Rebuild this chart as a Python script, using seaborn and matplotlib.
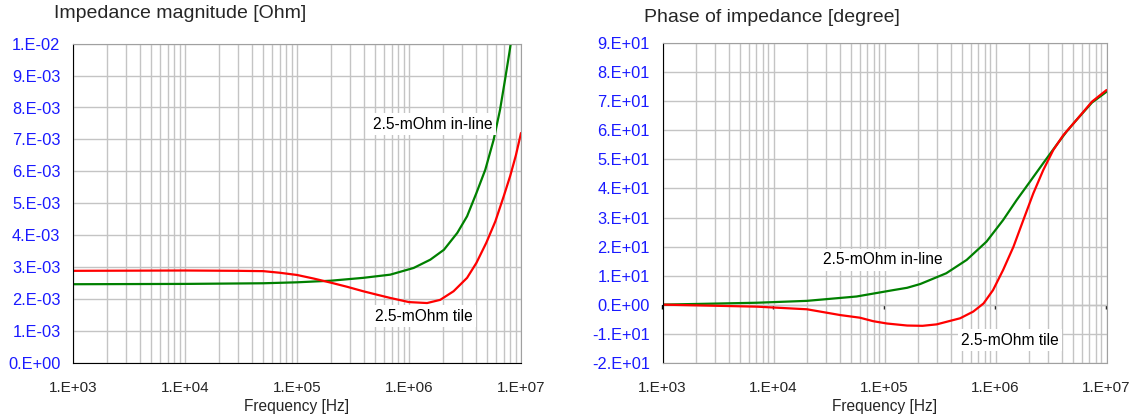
import numpy as np
import pandas as pd
import matplotlib
matplotlib.use("Agg")
import matplotlib.pyplot as plt
import matplotlib.ticker as mticker
import seaborn as sns

# ------------------- data -------------------

# impedance magnitude [Ohm], 2.5-mOhm tile (red)
f_mag_tile = [1e3, 1e4, 3e4, 5e4, 7e4, 1e5, 1.4e5, 2e5, 2.8e5, 3.9e5, 5.2e5, 6.8e5,
              1e6, 1.45e6, 1.9e6, 2.5e6, 3.3e6, 4e6, 4.9e6, 5.9e6, 7e6, 8e6, 9e6, 1e7]
z_mag_tile = [2.88e-3, 2.89e-3, 2.88e-3, 2.87e-3, 2.82e-3, 2.75e-3, 2.64e-3, 2.51e-3,
              2.38e-3, 2.24e-3, 2.13e-3, 2.03e-3, 1.90e-3, 1.87e-3, 1.97e-3, 2.24e-3,
              2.66e-3, 3.13e-3, 3.76e-3, 4.43e-3, 5.21e-3, 5.85e-3, 6.50e-3, 7.2e-3]

# impedance magnitude [Ohm], 2.5-mOhm in-line (green)
f_mag_inline = [1e3, 1e4, 5e4, 1e5, 2e5, 3.9e5, 6.8e5, 1.1e6, 1.55e6, 2.05e6, 2.7e6,
                3.3e6, 4e6, 4.8e6, 5.7e6, 6.5e6, 7.2e6, 7.9e6, 8.5e6]
z_mag_inline = [2.46e-3, 2.47e-3, 2.49e-3, 2.52e-3, 2.57e-3, 2.66e-3, 2.76e-3, 2.97e-3,
                3.23e-3, 3.54e-3, 4.07e-3, 4.59e-3, 5.32e-3, 6.05e-3, 6.99e-3, 7.93e-3,
                8.87e-3, 9.75e-3, 10.5e-3]

# phase of impedance [degree], 2.5-mOhm in-line (green)
f_ph_inline = [1e3, 7.1e3, 2e4, 5.6e4, 1.2e5, 1.6e5, 2.1e5, 3.6e5, 5.5e5, 8.3e5,
               1.17e6, 1.55e6, 2.04e6, 2.69e6, 3.55e6, 4.37e6, 5.2e6, 7.4e6, 1e7]
ph_inline = [0.0, 0.65, 1.3, 2.8, 5.0, 5.8, 7.1, 10.8, 15.4, 21.7,
             29.1, 36.0, 42.3, 48.7, 55.0, 59.6, 63.0, 69.6, 73.3]

# phase of impedance [degree], 2.5-mOhm tile (red)
f_ph_tile = [1e3, 7.1e3, 2e4, 4e4, 6e4, 7.9e4, 1.05e5, 1.6e5, 2.2e5, 2.95e5, 4.8e5,
             6.3e5, 7.8e5, 9.5e5, 1.17e6, 1.45e6, 1.78e6, 2.19e6, 2.69e6, 3.31e6,
             4.07e6, 5.2e6, 7.4e6, 1e7]
ph_tile = [0.0, -0.7, -1.6, -3.6, -4.5, -5.7, -6.5, -7.2, -7.3, -6.8, -4.7,
           -2.4, 0.4, 5.0, 11.9, 19.9, 29.1, 38.3, 46.3, 53.2,
           58.3, 63.0, 69.9, 73.9]

names = ["2.5-mOhm in-line", "2.5-mOhm tile"]
colors = {"2.5-mOhm in-line": "#008000", "2.5-mOhm tile": "#ff0000"}

mag = pd.concat([
    pd.DataFrame({"f": f_mag_inline, "v": z_mag_inline, "s": names[0]}),
    pd.DataFrame({"f": f_mag_tile, "v": z_mag_tile, "s": names[1]}),
])
phase = pd.concat([
    pd.DataFrame({"f": f_ph_inline, "v": ph_inline, "s": names[0]}),
    pd.DataFrame({"f": f_ph_tile, "v": ph_tile, "s": names[1]}),
])

# ------------------- style -------------------

sns.set_style("white")
plt.rcParams["font.family"] = ["Liberation Sans", "DejaVu Sans"]

fig = plt.figure(figsize=(11.38, 4.19), dpi=100)
ax1 = fig.add_axes([73 / 1138, 56.3 / 419, 448 / 1138, 319 / 419])
ax2 = fig.add_axes([662.5 / 1138, 56.3 / 419, 444 / 1138, 319.4 / 419])

sci = mticker.FuncFormatter(lambda v, p: format(v, "#.0E"))


def style_axis(ax, ylim, ystep):
    ax.set_xscale("log")
    ax.set_xlim(1e3, 1e7)
    ax.set_ylim(*ylim)
    ax.xaxis.set_major_locator(mticker.LogLocator(base=10, numticks=10))
    ax.xaxis.set_minor_locator(mticker.LogLocator(base=10, subs=np.arange(2, 10), numticks=20))
    ax.xaxis.set_minor_formatter(mticker.NullFormatter())
    ax.xaxis.set_major_formatter(sci)
    ax.yaxis.set_major_locator(mticker.MultipleLocator(ystep))
    ax.yaxis.set_major_formatter(sci)
    ax.grid(which="major", color="#c4c4c4", linewidth=1.0)
    ax.grid(which="minor", axis="x", color="#c4c4c4", linewidth=1.0)
    ax.set_axisbelow(True)
    ax.tick_params(axis="x", which="minor", length=0)
    ax.tick_params(axis="both", which="major", direction="out", length=3,
                   width=1, color="black")
    ax.tick_params(axis="x", which="major", pad=10, labelsize=11)
    ax.tick_params(axis="y", which="major", pad=6, labelsize=11.8, labelcolor="#1a1aff")
    for side in ["top", "right"]:
        ax.spines[side].set_color("#a0a0a0")
    ax.spines["left"].set_color("black")
    ax.spines["bottom"].set_color("black")
    ax.set_xlabel("Frequency [Hz]", fontsize=11.2, labelpad=3)
    ax.set_ylabel("")


lbl = dict(fontsize=11.2, color="black", ha="center", va="center",
           bbox=dict(facecolor="white", edgecolor="none", pad=2.5))

# ---------------- Impedance magnitude ------------------

sns.lineplot(data=mag, x="f", y="v", hue="s", palette=colors, linewidth=1.6,
             legend=False, ax=ax1, sort=False)
style_axis(ax1, (0, 0.01), 0.001)

ax1.text(1.62e6, 7.48e-3, "2.5-mOhm in-line", **lbl)
ax1.text(1.35e6, 1.46e-3, "2.5-mOhm tile", **lbl)

fig.text(54 / 1138, 1 - 13 / 419, "Impedance magnitude [Ohm]",
         fontsize=14, ha="left", va="center")

# ---------------- Phase of impedance ------------------

sns.lineplot(data=phase, x="f", y="v", hue="s", palette=colors, linewidth=1.6,
             legend=False, ax=ax2, sort=False)
style_axis(ax2, (-20, 90), 10)
ax2.spines["bottom"].set_color("#a0a0a0")
ax2.tick_params(axis="x", which="major", length=0, pad=13)

# horizontal axis line crossing at zero, with its tick marks
ymin, ymax = ax2.get_ylim()
zero_axis = ax2.secondary_xaxis((0 - ymin) / (ymax - ymin))
zero_axis.xaxis.set_major_locator(mticker.LogLocator(base=10, numticks=10))
zero_axis.xaxis.set_minor_locator(mticker.NullLocator())
zero_axis.tick_params(axis="x", direction="out", length=3, width=1,
                      color="black", labelbottom=False)
zero_axis.spines["bottom"].set_color("black")

ax2.text(9.7e4, 15.5, "2.5-mOhm in-line", **lbl)
ax2.text(1.35e6, -12.3, "2.5-mOhm tile", **lbl)

fig.text(644 / 1138, 1 - 18 / 419, "Phase of impedance [degree]",
         fontsize=14, ha="left", va="center")

fig.savefig("out.png", dpi=100)
